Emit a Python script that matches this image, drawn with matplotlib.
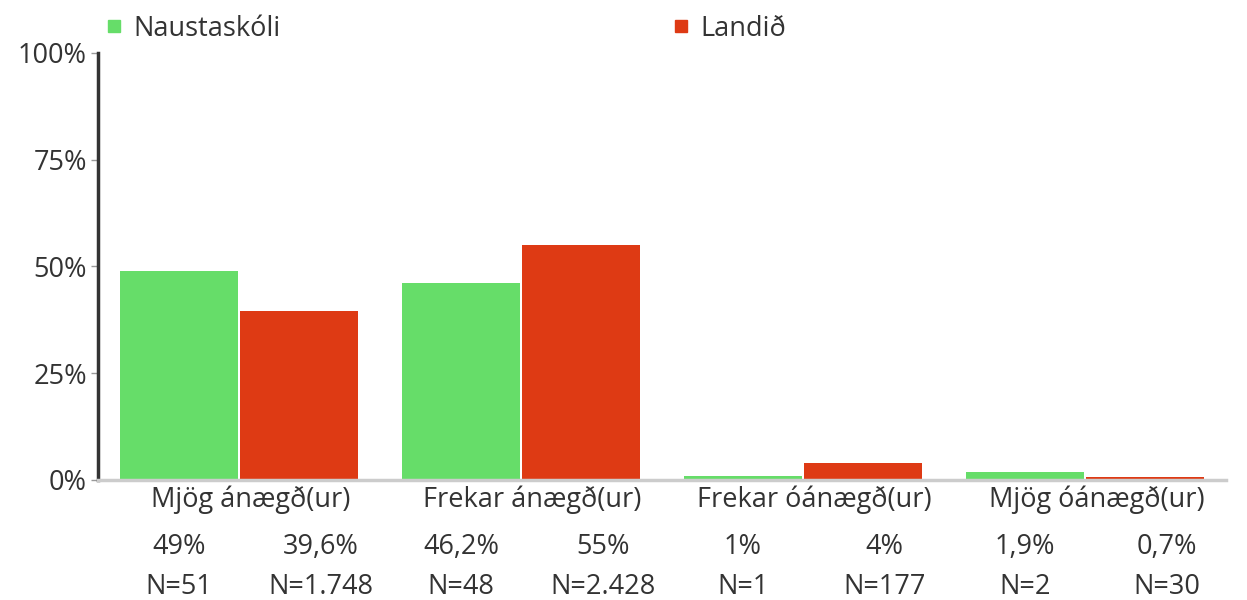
import matplotlib.pyplot as plt
import numpy as np
from matplotlib.lines import Line2D
from matplotlib.transforms import blended_transform_factory

plt.rcParams['font.family'] = ['Open Sans', 'DejaVu Sans']

# Gögn
flokkar = ["Mjög ánægð(ur)", "Frekar ánægð(ur)", "Frekar óánægð(ur)", "Mjög óánægð(ur)"]
skoli = [49, 46.2, 1, 1.9]
landid = [39.6, 55, 4, 0.7]
skoli_n = ["N=51", "N=48", "N=1", "N=2"]
landid_n = ["N=1.748", "N=2.428", "N=177", "N=30"]
skoli_txt = ["49%", "46,2%", "1%", "1,9%"]
landid_txt = ["39,6%", "55%", "4%", "0,7%"]

green = '#66dd69'
red = '#de3a14'
txt = '#333333'
fs = 19.5

fig = plt.figure(figsize=(12.47, 6), dpi=100)
ax = fig.add_axes([0.0786, 0.2, 0.9046, 0.7117])

x = np.arange(len(flokkar))
w = 0.418
ax.bar(x - 0.213, skoli, width=w, color=green)
ax.bar(x + 0.213, landid, width=w, color=red)

ax.set_xlim(-0.5, 3.5)
ax.set_ylim(0, 100)
ax.set_yticks([0, 25, 50, 75, 100])
ax.set_yticklabels(["0%", "25%", "50%", "75%", "100%"])
ax.tick_params(axis='y', length=5, width=1, color='#999999', labelsize=fs, labelcolor=txt, pad=3)
ax.set_xticks([])

for s in ['top', 'right']:
    ax.spines[s].set_visible(False)
ax.spines['left'].set_color('#333333')
ax.spines['left'].set_linewidth(2.5)
ax.spines['bottom'].set_color('#cccccc')
ax.spines['bottom'].set_linewidth(2.5)

# textar undir ásnum
tr = blended_transform_factory(ax.transData, ax.transAxes)
for i in range(len(flokkar)):
    ax.text(i + 0.04, -0.047, flokkar[i], transform=tr, ha='center', va='center', fontsize=fs, color=txt)
    ax.text(i - 0.213, -0.157, skoli_txt[i], transform=tr, ha='center', va='center', fontsize=fs, color=txt)
    ax.text(i + 0.29, -0.157, landid_txt[i], transform=tr, ha='center', va='center', fontsize=fs, color=txt)
    ax.text(i - 0.213, -0.25, skoli_n[i], transform=tr, ha='center', va='center', fontsize=fs, color=txt)
    ax.text(i + 0.29, -0.25, landid_n[i], transform=tr, ha='center', va='center', fontsize=fs, color=txt)

handles = [Line2D([], [], marker='s', linestyle='none', color=green, markersize=9),
           Line2D([], [], marker='s', linestyle='none', color=red, markersize=9)]
fig.legend(handles, ["Naustaskóli", "Landið"], loc='center left', bbox_to_anchor=(0.083, 0.952),
           ncol=2, frameon=False, fontsize=fs, handlelength=0.8, handletextpad=0.3,
           columnspacing=14.4, labelcolor=txt, borderpad=0, borderaxespad=0)

fig.savefig('out.png', dpi=100)
